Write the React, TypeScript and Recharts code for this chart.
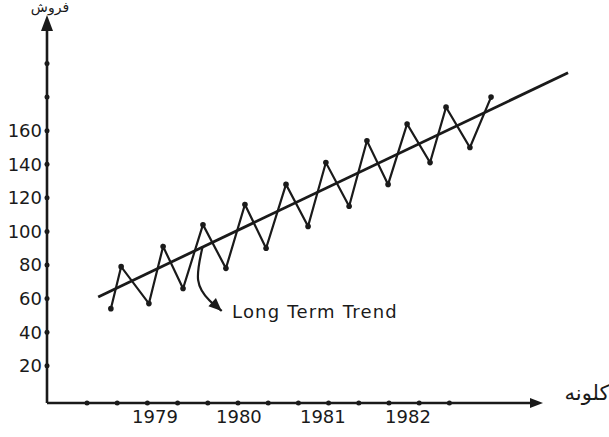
import React from 'react';
import {
  ComposedChart,
  Line,
  Scatter,
  XAxis,
  YAxis,
  ReferenceLine,
} from 'recharts';

// x unit = one tick step on the time axis (ticks at 0..12)
const seasonalX = [0.79, 1.13, 2.05, 2.52, 3.18, 3.84, 4.6, 5.23, 5.93, 6.59, 7.32, 7.91, 8.68, 9.27, 9.97, 10.6, 11.36, 11.89, 12.68, 13.38];
const seasonalY = [54, 79, 57, 91, 66, 104, 78, 116, 90, 128, 103, 141, 115, 154, 128, 164, 141, 174, 150, 180];

const trendX = [0.37, 15.93];
const trendY = [61, 194.5];

// curved pointer to the trend line
const pointerX = [3.83, 3.68, 4.05, 4.46];
const pointerY = [91, 71, 59, 52.6];

const yearTicks = [2.25, 5.03, 7.81, 10.63];
const yearLabels = ['1979', '1980', '1981', '1982'];

const yTicks = [20, 40, 60, 80, 100, 120, 140, 160];
const yDots = [20, 40, 60, 80, 100, 120, 140, 160, 180, 200];
const xDots = [0, 1, 2, 3, 4, 5, 6, 7, 8, 9, 10, 11, 12];

const X_MIN = -1.325;
const X_MAX = 16.16;
const Y_MIN = -2.2;
const Y_MAX = 228.9;
const X_ARROW_END = 15.1;

const ink = '#1a1a1a';

const seasonalData = seasonalX.map((x, i) => ({ x, y: seasonalY[i] }));
const trendData = trendX.map((x, i) => ({ x, y: trendY[i] }));
const pointerData = pointerX.map((x, i) => ({ x, y: pointerY[i] }));
const xDotData = xDots.map((x) => ({ x, y: Y_MIN }));
const yDotData = yDots.map((y) => ({ x: X_MIN, y }));

const makeArrow = (len: number, w: number, angle: number) => (props: any) => {
  const { cx, cy } = props;
  return (
    <polygon
      points={`0,0 ${-len},${-w / 2} ${-len},${w / 2}`}
      transform={`translate(${cx},${cy}) rotate(${angle})`}
      fill={ink}
    />
  );
};

const smallDot = (props: any) => <circle cx={props.cx} cy={props.cy} r={2.5} fill={ink} />;

export default function App() {
  return (
    <div style={{ position: 'absolute', left: 0, top: 0, width: 609, height: 437, background: '#fff' }}>
      <ComposedChart
        width={609}
        height={437}
        margin={{ top: 15, right: 34, bottom: 4, left: 0 }}
        style={{ fontFamily: '"DejaVu Sans", sans-serif' }}
      >
        <XAxis
          type="number"
          dataKey="x"
          domain={[X_MIN, X_MAX]}
          ticks={yearTicks}
          tickFormatter={(v) => yearLabels[yearTicks.indexOf(v)] ?? ''}
          axisLine={false}
          tickLine={false}
          tickSize={5}
          tick={{ fill: ink, fontSize: 18 }}
          interval={0}
          height={30}
        />
        <YAxis
          type="number"
          dataKey="y"
          domain={[Y_MIN, Y_MAX]}
          ticks={yTicks}
          axisLine={false}
          tickLine={false}
          tickSize={3}
          tickMargin={2}
          tick={{ fill: ink, fontSize: 18 }}
          interval={0}
          width={47}
        />

        {/* axes drawn by hand so they can carry arrows */}
        <ReferenceLine
          segment={[{ x: X_MIN, y: Y_MIN }, { x: X_MIN, y: Y_MAX - 4 }]}
          stroke={ink}
          strokeWidth={2.6}
          ifOverflow="visible"
        />
        <ReferenceLine
          segment={[{ x: X_MIN, y: Y_MIN }, { x: X_ARROW_END - 0.2, y: Y_MIN }]}
          stroke={ink}
          strokeWidth={2.6}
          ifOverflow="visible"
        />
        <Scatter data={[{ x: X_MIN, y: Y_MAX }]} shape={makeArrow(16, 12, -90)} isAnimationActive={false} />
        <Scatter data={[{ x: X_ARROW_END, y: Y_MIN }]} shape={makeArrow(13, 10, 0)} isAnimationActive={false} />
        <Scatter data={xDotData} shape={smallDot} isAnimationActive={false} />
        <Scatter data={yDotData} shape={smallDot} isAnimationActive={false} />

        <Line
          data={trendData}
          dataKey="y"
          type="linear"
          stroke={ink}
          strokeWidth={2.8}
          dot={false}
          activeDot={false}
          isAnimationActive={false}
        />
        <Line
          data={seasonalData}
          dataKey="y"
          type="linear"
          stroke={ink}
          strokeWidth={2.2}
          dot={{ r: 2.8, fill: ink, stroke: ink, strokeWidth: 0 }}
          activeDot={false}
          isAnimationActive={false}
        />
        <Line
          data={pointerData}
          dataKey="y"
          type="natural"
          stroke={ink}
          strokeWidth={2.2}
          dot={false}
          activeDot={false}
          isAnimationActive={false}
        />
        <Scatter data={[{ x: pointerX[3], y: pointerY[3] }]} shape={makeArrow(13, 11, 43)} isAnimationActive={false} />

        <text x={232} y={318} fontSize={18} letterSpacing={1.2} fill={ink}>
          Long Term Trend
        </text>
        <text x={587} y={400} fontSize={21} textAnchor="middle" fill={ink} style={{ direction: 'rtl' }}>
          کلونه
        </text>
        <text x={50} y={12} fontSize={14} textAnchor="middle" fill={ink} style={{ direction: 'rtl' }}>
          فروش
        </text>
      </ComposedChart>
    </div>
  );
}
